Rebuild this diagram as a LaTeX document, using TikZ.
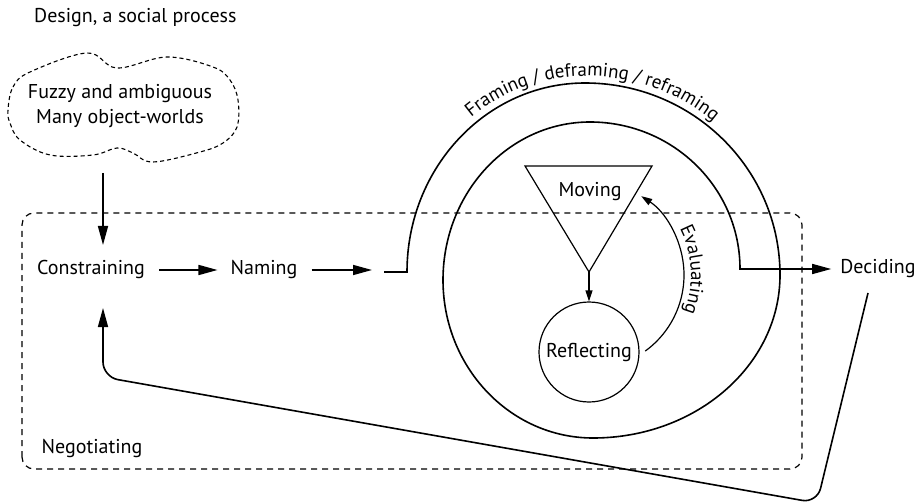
\documentclass[tikz,border=0pt]{standalone}
\usepackage{fontspec}
\setmainfont{PT Sans}
\usetikzlibrary{arrows.meta,decorations.text}
\begin{document}
\begin{tikzpicture}[x=1pt,y=1pt,
  lbl/.style={font=\fontsize{20}{25}\selectfont, inner sep=0pt},
  mainline/.style={line width=1.6pt},
  thinline/.style={line width=1.2pt},
  bigarrow/.style={-{Triangle[length=19pt,width=10pt]}, line width=1.6pt},
  smallarrow/.style={-{Triangle[length=11pt,width=7pt]}, line width=1.2pt},
]
\useasboundingbox (0,0) rectangle (917,501);

% title
\node[lbl, anchor=west] (title) at (34,483) {Design, a social process};

% cloud
\draw[line width=1.1pt, dash pattern=on 4pt off 3pt]
  plot[smooth cycle, tension=0.6] coordinates {
  (8,391) (13,414) (30,429) (87,448) (117,433) (167,444) (213,434) (230,421)
  (238,401) (237,374) (223,358) (200,349) (153,339) (133,348) (117,353)
  (93,346) (50,346) (20,361) (10,378)};
\node[lbl, align=center] (fuzzy) at (120,395) {Fuzzy and ambiguous\\Many object-worlds};

% negotiating box
\draw[line width=1.2pt, dash pattern=on 6pt off 5pt, rounded corners=12pt]
  (22,32) rectangle (802,288);
\node[lbl] (neg) at (92,52) {Negotiating};

% main nodes
\node[lbl] (constr) at (91,231) {Constraining};
\node[lbl] (naming) at (264,231) {Naming};
\node[lbl] (deciding) at (878,232) {Deciding};

\coordinate (cloudbot) at (103,328);
\coordinate (cin) at (103,256);
\coordinate (cbot) at (103,193);
\coordinate (nend) at (372,231);
\coordinate (hs0) at (384,229);
\coordinate (fbstart) at (868,208);

\draw[bigarrow] (cloudbot) -- (cin);
\draw[bigarrow, shorten <=14pt, shorten >=13pt] (constr) -- (naming);
\draw[bigarrow, shorten <=14pt] (naming) -- (nend);

% framing spiral
\draw[bigarrow, shorten >=9pt] (hs0) -- (407,229)
  arc[start angle=180, end angle=90, x radius=178, y radius=189]
  arc[start angle=90, end angle=0, x radius=195, y radius=192]
  arc[start angle=0, end angle=-90, x radius=187, y radius=163]
  arc[start angle=-90, end angle=-180, x radius=150, y radius=158]
  arc[start angle=180, end angle=90, x radius=147, y radius=158]
  arc[start angle=90, end angle=0, x radius=150, y radius=147]
  -- (deciding);
\path[decorate, decoration={text along path, text align=center,
  text={|\fontsize{19}{22}\selectfont|Framing / deframing / reframing}}]
  (400,229)
  arc[start angle=180, end angle=90, x radius=185, y radius=196]
  arc[start angle=90, end angle=0, x radius=202, y radius=199];

% moving triangle
\draw[thinline, line join=miter] (525,335) -- (652,335) -- (589,229) -- cycle;
\coordinate (tip) at (589,229);
\node[lbl] (moving) at (590,309) {Moving};

% reflecting
\node[lbl, circle, draw, thinline, minimum size=100pt] (refl) at (589,149) {Reflecting};
\draw[smallarrow] (tip) -- (refl.north);

% evaluating
\coordinate (evc) at (590,226);
\draw[smallarrow] (evc) ++(-54:94) arc[start angle=-54, end angle=57, radius=94];
\path[decorate, decoration={text along path, text align=center,
  text={|\fontsize{19}{22}\selectfont|Evaluating}}]
  (evc) ++(60:101) arc[start angle=60, end angle=-54, radius=101];

% feedback
\draw[bigarrow, rounded corners=15pt] (fbstart) -- (817,-2) -- (103,124) -- (cbot);
\end{tikzpicture}
\end{document}
